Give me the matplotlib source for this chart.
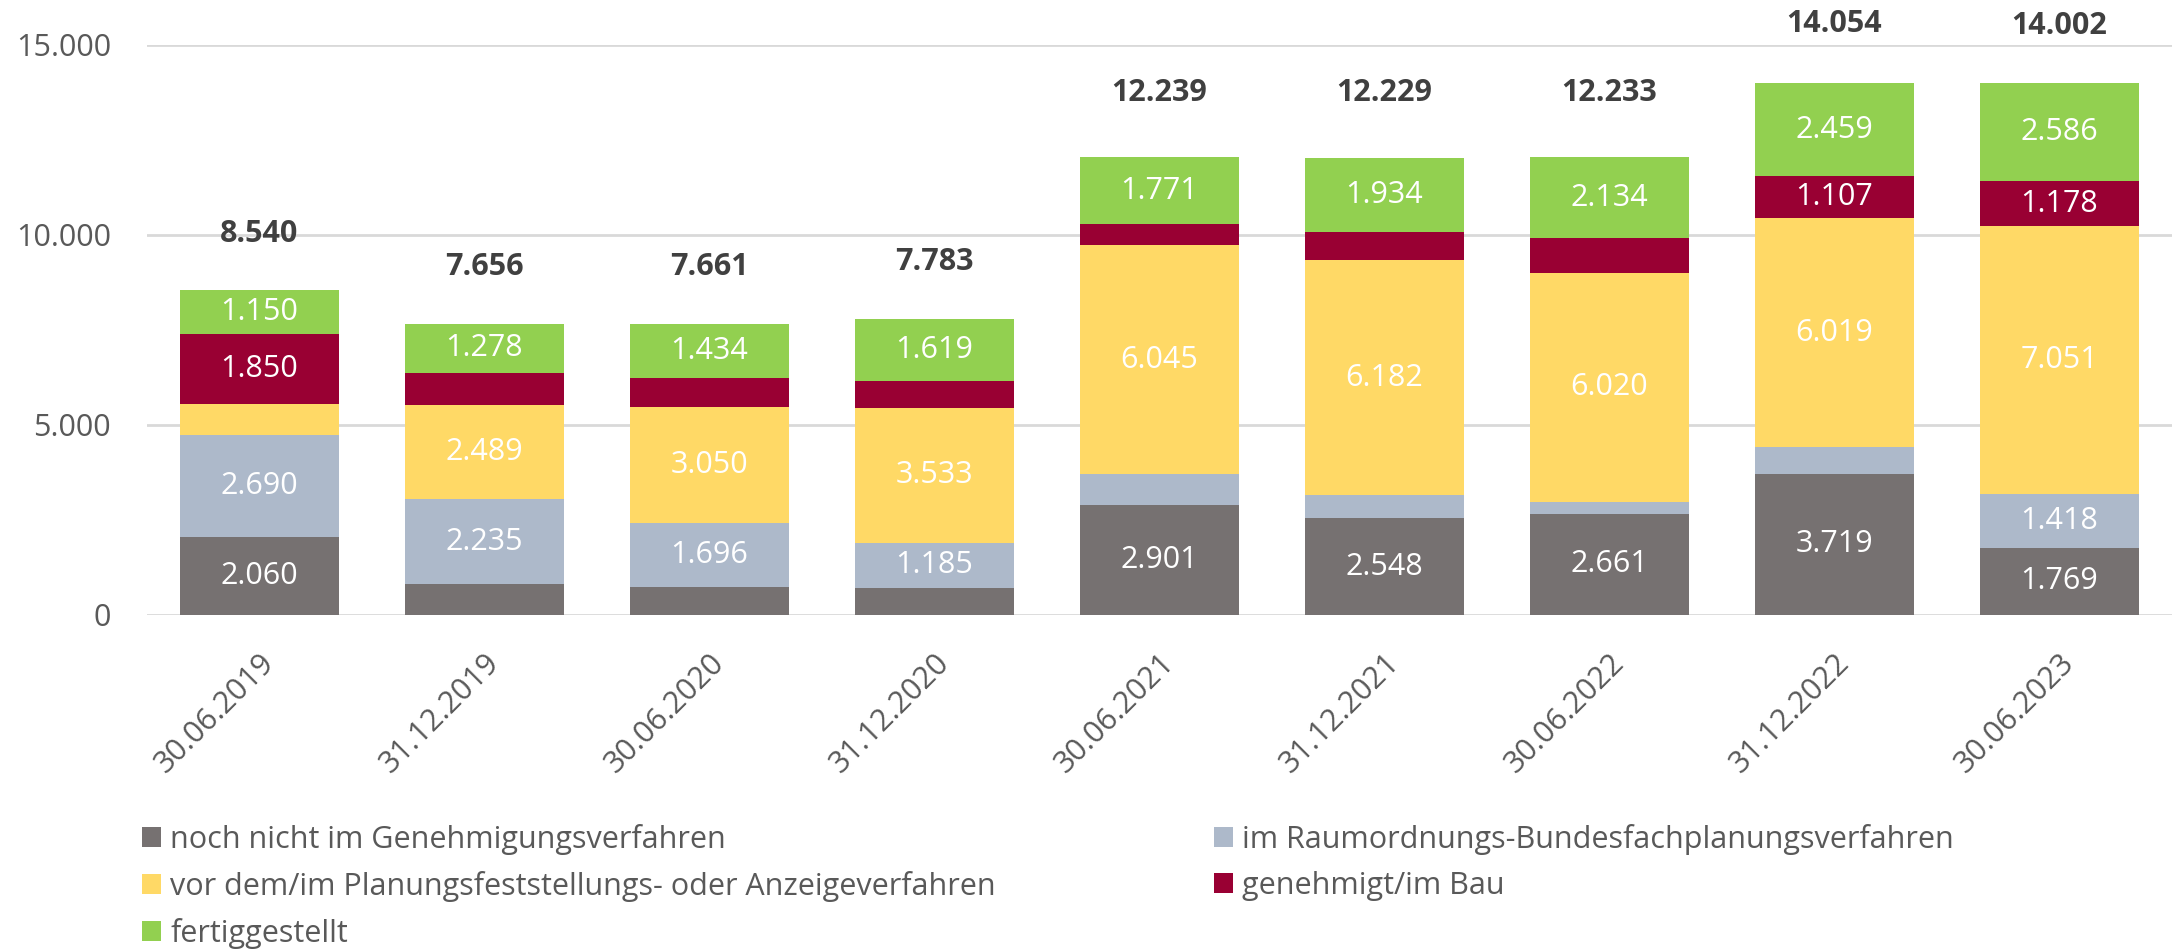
import matplotlib
matplotlib.use("Agg")
import matplotlib.pyplot as plt
from matplotlib.patches import Patch

plt.rcParams['font.family'] = ['Open Sans', 'DejaVu Sans']

categories = ["30.06.2019", "31.12.2019", "30.06.2020", "31.12.2020", "30.06.2021",
              "31.12.2021", "30.06.2022", "31.12.2022", "30.06.2023"]
noch_nicht = [2060, 810, 725, 720, 2901, 2548, 2661, 3719, 1769]
raumordnung = [2690, 2235, 1696, 1185, 800, 600, 316, 700, 1418]
planfest = [790, 2489, 3050, 3533, 6045, 6182, 6020, 6019, 7051]
genehmigt = [1850, 844, 756, 726, 534, 760, 922, 1107, 1178]
fertig = [1150, 1278, 1434, 1619, 1771, 1934, 2134, 2459, 2586]
totals = [8540, 7656, 7661, 7783, 12239, 12229, 12233, 14054, 14002]

series_names = ["noch nicht im Genehmigungsverfahren",
                "im Raumordnungs-Bundesfachplanungsverfahren",
                "vor dem/im Planungsfeststellungs- oder Anzeigeverfahren",
                "genehmigt/im Bau",
                "fertiggestellt"]
series = [noch_nicht, raumordnung, planfest, genehmigt, fertig]
# which bars carry a value label, per series
labelled = [[0, 4, 5, 6, 7, 8],
            [0, 1, 2, 3, 8],
            [1, 2, 3, 4, 5, 6, 7, 8],
            [0, 7, 8],
            [0, 1, 2, 3, 4, 5, 6, 7, 8]]
colors = ["#767171", "#ADB9CA", "#FFD966", "#990033", "#92D050"]
yticks = [0, 5000, 10000, 15000]


def de(v):
    return f"{v:,}".replace(",", ".")


W, H = 2175, 949
FS = 22
fig = plt.figure(figsize=(W / 100, H / 100), dpi=100)
ax = fig.add_axes([147 / W, 1 - 615 / H, (2172 - 147) / W, (615 - 45) / H])

x = list(range(len(categories)))
bottom = [0] * len(categories)
for vals, col, lab_idx in zip(series, colors, labelled):
    ax.bar(x, vals, bottom=bottom, width=0.71, color=col, zorder=3)
    for i in lab_idx:
        ax.text(x[i], bottom[i] + vals[i] / 2, de(vals[i]), ha='center', va='center',
                color='white', fontsize=FS, zorder=4)
    bottom = [b + v for b, v in zip(bottom, vals)]

for i, t in enumerate(totals):
    ax.annotate(de(t), (x[i], t), xytext=(0, 41), textcoords='offset points',
                ha='center', va='center', fontsize=FS, fontweight='bold',
                color='#404040', annotation_clip=False)

ax.set_xlim(-0.5, len(categories) - 0.5)
ax.set_ylim(0, 15000)
ax.set_yticks(yticks)
ax.set_yticklabels([de(v) for v in yticks], fontsize=FS, color='#595959')
ax.set_xticks(x)
ax.set_xticklabels(categories, rotation=45, ha='right', rotation_mode='anchor',
                   fontsize=FS, color='#595959')
ax.tick_params(axis='both', length=0)
ax.tick_params(axis='y', pad=26)
ax.tick_params(axis='x', pad=24)
ax.grid(axis='y', color='#D9D9D9', linewidth=2, zorder=0)
for s in ax.spines.values():
    s.set_visible(False)

handles = [Patch(facecolor=c) for c in colors]
kw = dict(frameon=False, fontsize=FS, handlelength=0.62, handleheight=0.62,
          handletextpad=0.3, labelspacing=0.52, borderpad=0, borderaxespad=0,
          loc='upper left', labelcolor='#595959')
fig.legend([handles[0], handles[2], handles[4]],
           [series_names[0], series_names[2], series_names[4]],
           bbox_to_anchor=(142 / W, 1 - 824 / H), **kw)
fig.legend([handles[1], handles[3]], [series_names[1], series_names[3]],
           bbox_to_anchor=(1214 / W, 1 - 824 / H), **kw)

fig.savefig("out.png", dpi=100)
